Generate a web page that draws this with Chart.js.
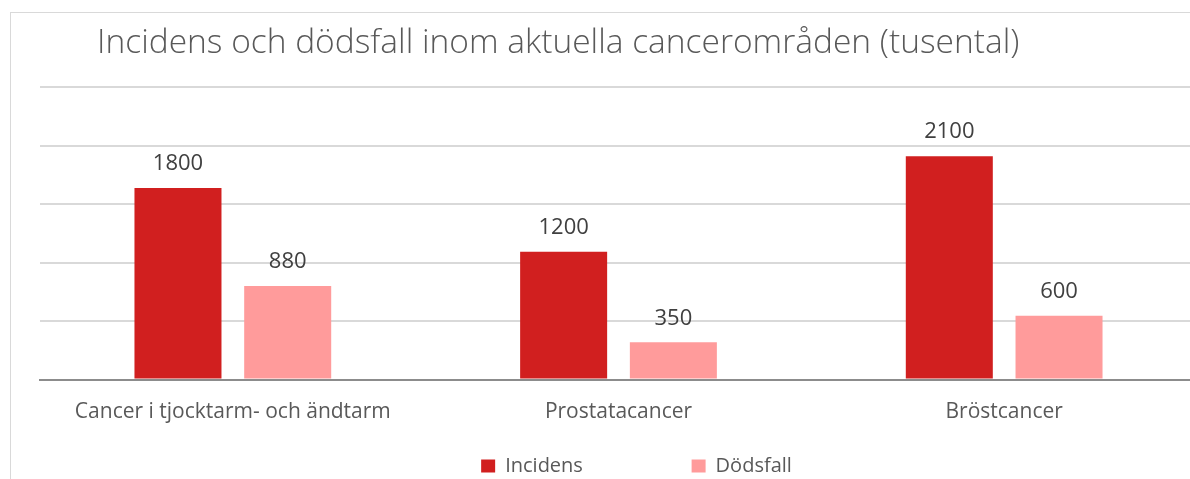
<!DOCTYPE html>
<html>
<head>
<meta charset="utf-8">
<script src="https://cdn.jsdelivr.net/npm/chart.js@4"></script>
<style>
  html, body { margin: 0; padding: 0; background: #fff; overflow: hidden; }
  #frame { position: absolute; left: 10px; top: 12px; width: 1250px; height: 520px;
           border-left: 1px solid #d9d9d9; border-top: 1px solid #d9d9d9; }
  #wrap { position: absolute; left: 0; top: 0; width: 1210px; height: 486px; }
</style>
</head>
<body>
<div id="frame"></div>
<div id="wrap"><canvas id="bar-chart"></canvas></div>
<script>
const categories = [
  'Cancer i tjocktarm- och ändtarm',
  'Prostatacancer',
  'Bröstcancer',
];
const incidens = [1800, 1200, 2100];
const dodsfall = [880, 350, 600];
const seriesNames = ['Incidens', 'Dödsfall'];
const chartTitle = 'Incidens och dödsfall inom aktuella cancerområden (tusental)';

// title drawn at the left, like the original
const titlePlugin = {
  id: 'leftTitle',
  afterDraw(chart) {
    const ctx = chart.ctx;
    ctx.save();
    ctx.font = '300 33.5px "Open Sans"';
    ctx.fillStyle = '#595959';
    ctx.textAlign = 'left';
    ctx.textBaseline = 'middle';
    ctx.fillText(chartTitle, 97, 43);
    ctx.restore();
  }
};

// value above each bar
const valueLabels = {
  id: 'valueLabels',
  afterDatasetsDraw(chart) {
    const ctx = chart.ctx;
    ctx.save();
    ctx.font = '22px "Open Sans"';
    ctx.fillStyle = '#404040';
    ctx.textAlign = 'center';
    ctx.textBaseline = 'middle';
    chart.data.datasets.forEach((ds, i) => {
      chart.getDatasetMeta(i).data.forEach((bar, j) => {
        ctx.fillText(ds.data[j], bar.x, bar.y - 24);
      });
    });
    ctx.restore();
  }
};

// nudge the legend a bit right of centre, as in the original
const legendShift = {
  id: 'legendShift',
  afterLayout(chart) {
    chart.legend.left += 18;
    chart.legend.right += 18;
  }
};

const data = {
  labels: categories,
  datasets: [
    {
      label: seriesNames[0],
      data: incidens,
      backgroundColor: '#d11f1f',
      categoryPercentage: 0.569,
      barPercentage: 0.793,
    },
    {
      label: seriesNames[1],
      data: dodsfall,
      backgroundColor: '#ff9b9b',
      categoryPercentage: 0.569,
      barPercentage: 0.793,
    },
  ]
};

const config = {
  type: 'bar',
  data: data,
  options: {
    responsive: true,
    maintainAspectRatio: false,
    animation: false,
    layout: { padding: { top: 87, left: 40, right: 13, bottom: 0 } },
    plugins: {
      title: { display: false },
      tooltip: { enabled: false },
      legend: {
        position: 'bottom',
        labels: {
          boxWidth: 14,
          boxHeight: 13,
          padding: 10,
          color: '#595959',
          font: { family: 'Open Sans', size: 20 },
          generateLabels(chart) {
            const items = Chart.defaults.plugins.legend.labels.generateLabels(chart);
            items[0].text = items[0].text + '\u00a0'.repeat(19);
            return items;
          }
        }
      }
    },
    scales: {
      x: {
        grid: { display: false, drawTicks: false },
        border: { display: true, color: '#8c8c8c', width: 2 },
        ticks: { color: '#595959', font: { family: 'Open Sans', size: 21 }, padding: 20 },
        afterFit(scale) { scale.height = 66.5; }
      },
      y: {
        min: 0,
        max: 2750,
        grid: { color: '#d9d9d9', lineWidth: 2, drawTicks: false },
        border: { display: false },
        ticks: { display: false, stepSize: 550 }
      }
    }
  },
  plugins: [titlePlugin, valueLabels, legendShift]
};

const myChart = new Chart(document.getElementById('bar-chart'), config);
</script>
</body>
</html>
